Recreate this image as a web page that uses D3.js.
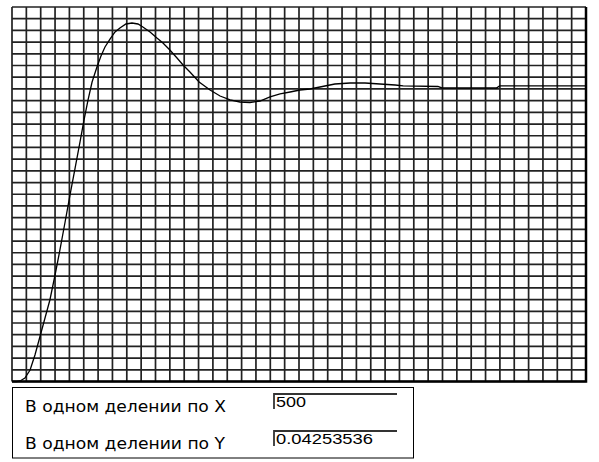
<!DOCTYPE html>
<meta charset="utf-8">
<style>
  html, body { margin: 0; padding: 0; background: #fff; }
  svg { display: block; }
</style>
<svg width="599" height="462"></svg>
<script src="https://d3js.org/d3.v7.min.js"></script>
<script>

var width = 599,
    height = 462;

// scale of one division
var stepX = 500,
    stepY = 0.04253536,
    colsX = 40,
    rowsY = 32;

// step response
var time = [0, 170, 310, 450, 630, 800, 980, 1150, 1320, 1500, 1670, 1850, 2020, 2200, 2370,
  2510, 2650, 2790, 2960, 3100, 3240, 3420, 3590, 3760, 3970, 4180, 4390, 4560, 4810,
  5050, 5260, 5500, 5750, 5960, 6200, 6520, 6900, 7250, 7600, 7940, 8290, 8640, 8990,
  9340, 9690, 10030, 10380, 10730, 11250, 11780, 12300, 12820, 13350, 13630, 14840,
  14980, 16880, 16990, 20000];
var response = [0, 0, 0.0036, 0.0127, 0.0418, 0.0963, 0.1654, 0.2308, 0.2962, 0.3871,
  0.4780, 0.5797, 0.6778, 0.7760, 0.8705, 0.9505, 1.0232, 1.0886, 1.1431, 1.1831,
  1.2158, 1.2449, 1.2703, 1.2849, 1.2994, 1.3030, 1.2994, 1.2885, 1.2703, 1.2485,
  1.2303, 1.2049, 1.1758, 1.1504, 1.1250, 1.0886, 1.0595, 1.0377, 1.0232, 1.0159,
  1.0140, 1.0195, 1.0341, 1.0450, 1.0522, 1.0595, 1.0631, 1.0704, 1.0813, 1.0849,
  1.0849, 1.0813, 1.0777, 1.0741, 1.0722, 1.0668, 1.0668, 1.0741, 1.0741];

var labels = ["В одном делении по X", "В одном делении по Y"],
    values = ["500", "0.04253536"];

var x = d3.scaleLinear()
    .domain([0, colsX * stepX])
    .range([12, 586]);

var y = d3.scaleLinear()
    .domain([0, rowsY * stepY])
    .range([381.5, 7]);

var svg = d3.select("svg");

var grid = svg.append("g")
    .attr("stroke", "#222")
    .attr("stroke-width", 1.7);

grid.selectAll(".vx")
  .data(d3.range(colsX + 1).map(function(i) { return i * stepX; }))
  .enter().append("line")
    .attr("x1", x).attr("x2", x)
    .attr("y1", y(0)).attr("y2", y(rowsY * stepY));

grid.selectAll(".hy")
  .data(d3.range(rowsY + 1).map(function(i) { return i * stepY; }))
  .enter().append("line")
    .attr("y1", y).attr("y2", y)
    .attr("x1", x(0)).attr("x2", x(colsX * stepX));

// heavier right and bottom frame
svg.append("path")
    .attr("d", "M" + x(0) + "," + y(0) + "H" + x(colsX * stepX) + "V" + y(rowsY * stepY))
    .attr("fill", "none")
    .attr("stroke", "#000")
    .attr("stroke-width", 2.5);

var line = d3.line()
    .x(function(d) { return x(d[0]); })
    .y(function(d) { return y(d[1]); });

svg.append("path")
    .datum(d3.zip(time, response))
    .attr("d", line)
    .attr("fill", "none")
    .attr("stroke", "#000")
    .attr("stroke-width", 1.3);

// info panel
svg.append("rect")
    .attr("x", 12.5).attr("y", 387.5)
    .attr("width", 401).attr("height", 70.5)
    .attr("fill", "#fff")
    .attr("stroke", "#000");

var row = svg.selectAll(".row")
  .data(d3.range(labels.length))
  .enter().append("g")
    .attr("transform", function(i) { return "translate(0," + (i * 37) + ")"; });

row.append("text")
    .attr("x", 25).attr("y", 412)
    .attr("font-family", "DejaVu Sans, sans-serif")
    .attr("font-size", 16)
    .attr("textLength", function(i) { return i ? 200 : 201; })
    .attr("lengthAdjust", "spacingAndGlyphs")
    .text(function(i) { return labels[i]; });

row.append("path")
    .attr("d", "M274,409V394H397")
    .attr("fill", "none")
    .attr("stroke", "#333")
    .attr("stroke-width", 1.8);

row.append("text")
    .attr("x", 276).attr("y", 407)
    .attr("font-family", "Liberation Sans, Arial, sans-serif")
    .attr("font-size", 15.5)
    .attr("textLength", function(i) { return i ? 97 : 30; })
    .attr("lengthAdjust", "spacingAndGlyphs")
    .text(function(i) { return values[i]; });

</script>
